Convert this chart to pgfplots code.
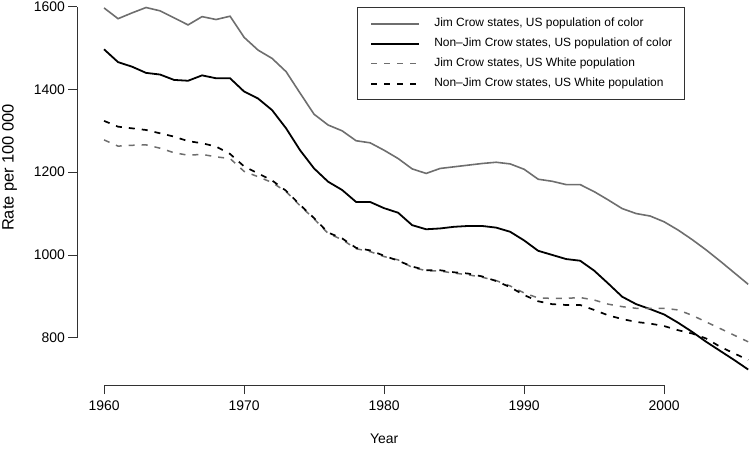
\documentclass[border=0pt]{standalone}
\usepackage{fontspec}
\setmainfont{Liberation Sans}
\usepackage{pgfplots}
\pgfplotsset{compat=1.18}
\usepackage{pgfplotstable}
\definecolor{lgray}{RGB}{110,110,110}
\definecolor{axgray}{RGB}{50,50,50}

\pgfplotstableread{
year jcc njcc jcw njcw
1960 1597 1497 1278 1324
1961 1571 1466 1263 1310
1962 1585 1455 1265 1306
1963 1598 1440 1266 1302
1964 1590 1436 1258 1294
1965 1573 1423 1247 1286
1966 1556 1421 1241 1275
1967 1576 1434 1243 1270
1968 1569 1427 1237 1262
1969 1577 1427 1233 1244
1970 1526 1395 1202 1214
1971 1495 1378 1189 1197
1972 1475 1350 1175 1180
1973 1443 1306 1153 1155
1974 1391 1253 1119 1121
1975 1340 1209 1087 1089
1976 1314 1177 1052 1054
1977 1300 1157 1037 1040
1978 1276 1128 1015 1017
1979 1271 1128 1008 1011
1980 1253 1113 996 998
1981 1233 1102 988 986
1982 1208 1072 970 972
1983 1197 1062 962 963
1984 1209 1064 961 963
1985 1213 1068 956 958
1986 1217 1070 952 955
1987 1221 1070 946 948
1988 1224 1066 938 937
1989 1220 1056 925 922
1990 1207 1035 908 903
1991 1183 1010 896 888
1992 1178 1000 895 881
1993 1170 990 895 879
1994 1170 986 897 879
1995 1153 962 891 867
1996 1133 931 881 854
1997 1112 899 875 845
1998 1100 881 871 838
1999 1094 869 871 834
2000 1080 856 871 828
2001 1060 836 867 818
2002 1037 814 854 810
2003 1012 790 838 798
2004 985 768 822 778
2005 957 746 806 762
2006 929 723 790 746
}\data

\begin{document}
\begin{tikzpicture}
\begin{axis}[
  scale only axis, width=673.7bp, height=385bp,
  xmin=1958.09, xmax=2006.2, ymin=685.6, ymax=1616.2,
  axis x line*=bottom, axis y line*=left,
  axis line style={draw=none},
  clip mode=individual,
  xtick={1960,1970,1980,1990,2000},
  ytick={800,1000,1200,1400,1600},
  minor tick num=0,
  tick align=outside, major tick length=9bp,
  tick style={axgray, line width=0.8bp},
  /pgf/number format/assume math mode=true,
  /pgf/number format/1000 sep={},
  ticklabel style={font=\fontsize{14}{16}\selectfont, text=black},
  xticklabel style={yshift=-3.5bp},
  xlabel={Year},
  xlabel style={font=\fontsize{14}{16}\selectfont, at={(axis description cs:0.4554,-0.1532)}, anchor=base},
  ylabel={Rate per 100 000},
  ylabel style={font=\fontsize{16.5}{18}\selectfont, at={(axis description cs:-0.0947,0.565)}, anchor=base, rotate=0},
  legend cell align=left,
  legend image code/.code={\draw[#1] (0bp,0bp) -- (48bp,0bp);},
  legend style={at={(axis description cs:0.4156,0.981)}, anchor=north west,
    draw=axgray, line width=0.8bp, font=\fontsize{12}{14}\selectfont,
    inner xsep=12.5bp, inner ysep=10bp, row sep=8bp, column sep=14.3bp,
    nodes={inner sep=0pt, text height=9bp, text depth=3bp}},
]
\addplot[lgray, line width=1.6bp] table[x=year, y=jcc] {\data};
\addlegendentry{Jim Crow states, US population of color}
\addplot[black, line width=1.8bp] table[x=year, y=njcc] {\data};
\addlegendentry{Non–Jim Crow states, US population of color}
\addplot[lgray, line width=1.5bp, dash pattern=on 6bp off 7bp] table[x=year, y=jcw] {\data};
\addlegendentry{Jim Crow states, US White population}
\addplot[black, line width=1.7bp, dash pattern=on 6bp off 7bp] table[x=year, y=njcw] {\data};
\addlegendentry{Non–Jim Crow states, US White population}
\draw[axgray, line width=0.8bp] (axis cs:1958.09,800) -- (axis cs:1958.09,1600);
\draw[axgray, line width=0.8bp] (axis cs:1960,685.6) -- (axis cs:2000,685.6);
\end{axis}
\pgfresetboundingbox
\path (-77.3bp,-64bp) rectangle (673.7bp,385bp);
\end{tikzpicture}
\end{document}
